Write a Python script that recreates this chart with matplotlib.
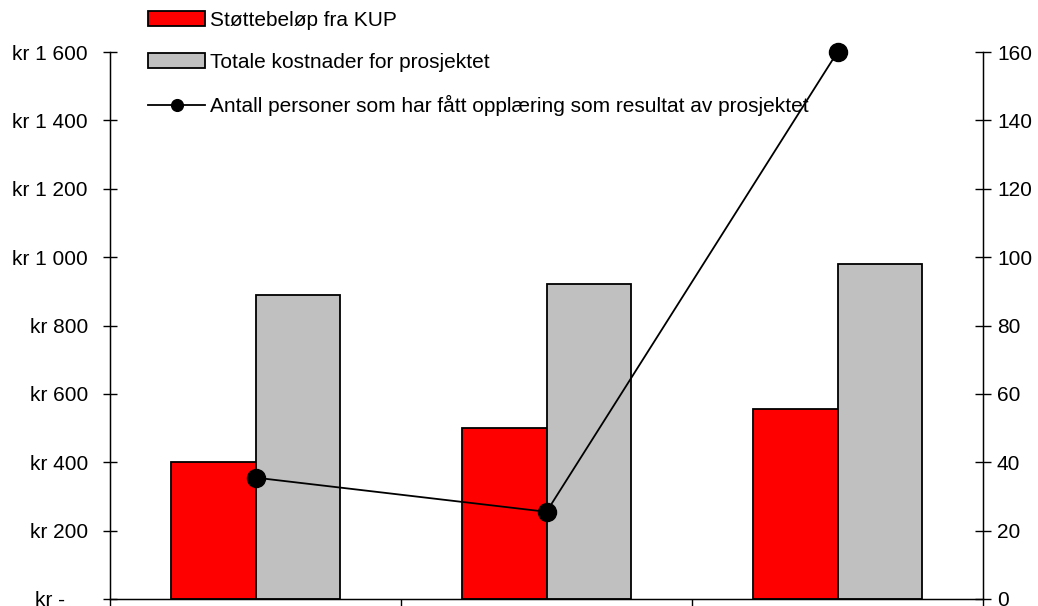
import matplotlib.pyplot as plt
import numpy as np

plt.rcParams['font.family'] = ['Liberation Sans', 'DejaVu Sans']

# Data
prosjekter = ['Prosjekt 1', 'Prosjekt 2', 'Prosjekt 3']
stottebelop = [400, 500, 555]
totale_kostnader = [890, 920, 980]
antall_personer = [35.5, 25.5, 160]

venstre_ticks = [0, 200, 400, 600, 800, 1000, 1200, 1400, 1600]
venstre_labels = ['kr -    ', 'kr 200', 'kr 400', 'kr 600', 'kr 800',
                  'kr 1 000', 'kr 1 200', 'kr 1 400', 'kr 1 600']
hoyre_ticks = [0, 20, 40, 60, 80, 100, 120, 140, 160]

fs = 15

fig = plt.figure(figsize=(10.38, 6.06), dpi=100)
ax = fig.add_axes([110 / 1038, 1 - 599 / 606, 873 / 1038, 547 / 606])

x = np.arange(len(prosjekter))
b = 0.29

ax.bar(x - b / 2, stottebelop, b, color='#ff0000', edgecolor='black',
       linewidth=1.3, label='Støttebeløp fra KUP')
ax.bar(x + b / 2, totale_kostnader, b, color='#c0c0c0', edgecolor='black',
       linewidth=1.3, label='Totale kostnader for prosjektet')

ax.set_xlim(-0.5, 2.5)
ax.set_ylim(0, 1600)
ax.set_yticks(venstre_ticks)
ax.set_yticklabels(venstre_labels, fontsize=fs)
ax.set_xticks([-0.5, 0.5, 1.5, 2.5])
ax.set_xticklabels([])
ax.tick_params(axis='y', direction='inout', length=10, width=1, pad=11)
ax.tick_params(axis='x', direction='out', length=6, width=1)
ax.spines['top'].set_visible(False)
for s in ['left', 'right', 'bottom']:
    ax.spines[s].set_linewidth(1)

ax2 = ax.twinx()
ax2.plot(x, antall_personer, color='black', linewidth=1.3, marker='o',
         markersize=13, clip_on=False,
         label='Antall personer som har fått opplæring som resultat av prosjektet')
ax2.set_ylim(0, 160)
ax2.set_yticks(hoyre_ticks)
ax2.tick_params(axis='y', direction='inout', length=12, width=1, pad=4, labelsize=fs)
ax2.spines['top'].set_visible(False)

h1, l1 = ax.get_legend_handles_labels()
h2, l2 = ax2.get_legend_handles_labels()
fig.legend(h1 + h2, l1 + l2, loc='upper left', bbox_to_anchor=(148 / 1038, 1 - 11 / 606),
           frameon=False, fontsize=fs, handlelength=2.75, handleheight=0.7,
           handletextpad=0.24, labelspacing=1.1, borderpad=0, borderaxespad=0,
           markerscale=0.65)

fig.savefig('out.png', dpi=100)
